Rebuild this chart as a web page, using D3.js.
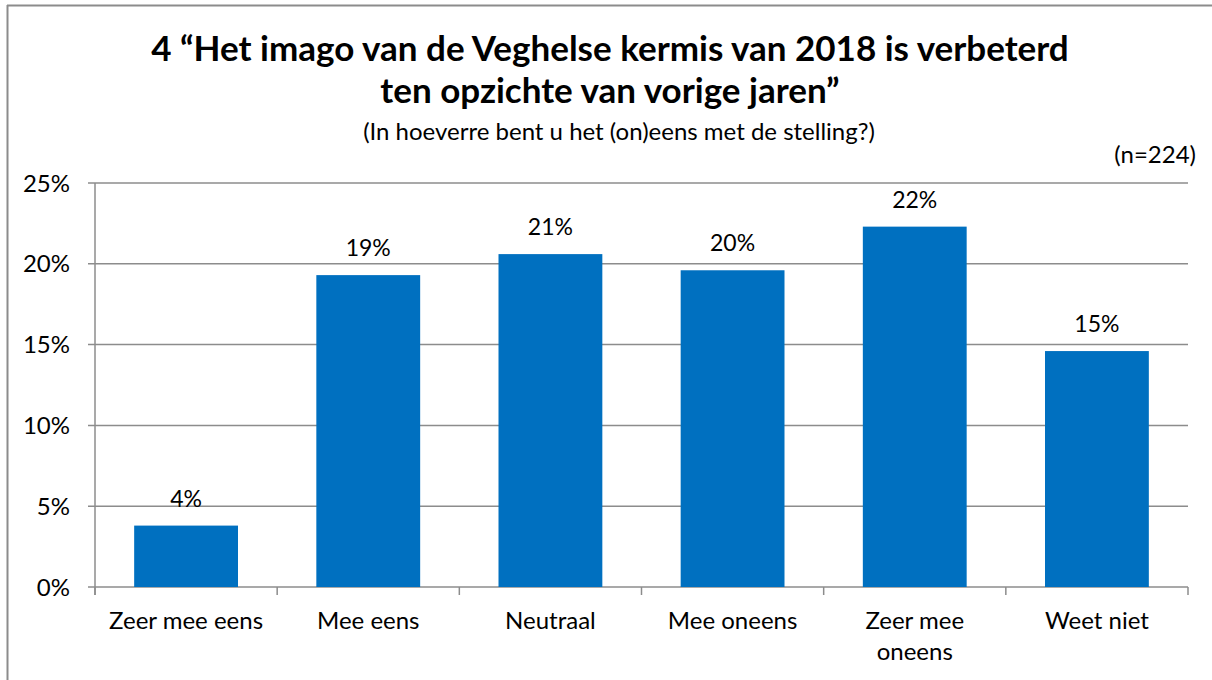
<!DOCTYPE html>
<html>
<head>
<meta charset="utf-8">
<script src="https://cdn.jsdelivr.net/npm/d3@7"></script>
<style>
  body { margin: 0; background: #fff; overflow: hidden; }
  svg { display: block; font-family: Lato, "Open Sans", sans-serif; }
</style>
</head>
<body>
<svg id="chart" width="1212" height="680"></svg>
<script>
// data
var categories = ["Zeer mee eens", "Mee eens", "Neutraal", "Mee oneens", "Zeer mee oneens", "Weet niet"];
var values = [3.8, 19.3, 20.6, 19.6, 22.3, 14.6];
var valueLabels = ["4%", "19%", "21%", "20%", "22%", "15%"];
var yTicks = [0, 5, 10, 15, 20, 25];

var svg = d3.select("#chart");

// outer frame: only top and left edges are inside the picture
svg.append("line")
    .attr("x1", 7).attr("x2", 1212)
    .attr("y1", 5.5).attr("y2", 5.5)
    .style("stroke", "#8c8c8c").style("stroke-width", 2);
svg.append("line")
    .attr("x1", 7.5).attr("x2", 7.5)
    .attr("y1", 5).attr("y2", 680)
    .style("stroke", "#8c8c8c").style("stroke-width", 2);

var margin = {top: 183, left: 95, right: 24, bottom: 93};
var width = 1212 - margin.left - margin.right;
var height = 680 - margin.top - margin.bottom;

var g = svg.append("g").attr("transform", `translate(${margin.left},${margin.top})`);

var xScale = d3.scaleBand()
    .domain(categories)
    .range([0, width])
    .paddingInner(0.43)
    .paddingOuter(0.215);

var yScale = d3.scaleLinear()
    .domain([0, 25])
    .range([height, 0]);

// gridlines
g.selectAll(".grid")
    .data(yTicks)
    .enter()
    .append("line")
    .attr("x1", -7)
    .attr("x2", width)
    .attr("y1", function(d) { return yScale(d); })
    .attr("y2", function(d) { return yScale(d); })
    .style("stroke", "#8c8c8c")
    .style("stroke-width", 1.5);

// y axis labels
g.selectAll(".ylab")
    .data(yTicks)
    .enter()
    .append("text")
    .attr("x", -25)
    .attr("y", function(d) { return yScale(d); })
    .attr("dy", "0.36em")
    .attr("text-anchor", "end")
    .style("font-size", "24px")
    .text(function(d) { return d + "%"; });

// y axis line
g.append("line")
    .attr("x1", 0).attr("x2", 0)
    .attr("y1", 0).attr("y2", height + 8)
    .style("stroke", "#8c8c8c")
    .style("stroke-width", 1.5);

// x tick marks at band boundaries
var bounds = d3.range(categories.length + 1).map(function(i) { return i * width / categories.length; });
g.selectAll(".xtick")
    .data(bounds)
    .enter()
    .append("line")
    .attr("x1", function(d) { return d; })
    .attr("x2", function(d) { return d; })
    .attr("y1", height)
    .attr("y2", height + 8)
    .style("stroke", "#8c8c8c")
    .style("stroke-width", 1.5);

// bars
g.selectAll(".bar")
    .data(values)
    .enter()
    .append("rect")
    .attr("x", function(d, i) { return xScale(categories[i]); })
    .attr("y", function(d) { return yScale(d); })
    .attr("width", xScale.bandwidth())
    .attr("height", function(d) { return height - yScale(d); })
    .style("fill", "#0070c0");

// value labels
g.selectAll(".val")
    .data(values)
    .enter()
    .append("text")
    .attr("x", function(d, i) { return xScale(categories[i]) + xScale.bandwidth() / 2; })
    .attr("y", function(d) { return yScale(d) - 19; })
    .attr("text-anchor", "middle")
    .style("font-size", "23px")
    .text(function(d, i) { return valueLabels[i]; });

// category labels (long one wraps)
var xlab = g.selectAll(".xlab")
    .data(categories)
    .enter()
    .append("text")
    .attr("text-anchor", "middle")
    .style("font-size", "24px")
    .attr("transform", function(d) {
        return `translate(${xScale(d) + xScale.bandwidth() / 2},${height + 42})`;
    });
xlab.each(function(d) {
    var lines = d === "Zeer mee oneens" ? ["Zeer mee", "oneens"] : [d];
    var t = d3.select(this);
    lines.forEach(function(l, i) {
        t.append("tspan").attr("x", 0).attr("dy", i === 0 ? 0 : 31).text(l);
    });
});

// titles
svg.append("text")
    .attr("x", 610).attr("y", 61)
    .attr("text-anchor", "middle")
    .style("font-size", "35px")
    .style("font-weight", "bold")
    .text("4 \u201cHet imago van de Veghelse kermis van 2018 is verbeterd");
svg.append("text")
    .attr("x", 610).attr("y", 103)
    .attr("text-anchor", "middle")
    .style("font-size", "35px")
    .style("font-weight", "bold")
    .text("ten opzichte van vorige jaren\u201d");
svg.append("text")
    .attr("x", 619).attr("y", 140)
    .attr("text-anchor", "middle")
    .style("font-size", "24px")
    .text("(In hoeverre bent u het (on)eens met de stelling?)");
svg.append("text")
    .attr("x", 1196).attr("y", 163)
    .attr("text-anchor", "end")
    .style("font-size", "24px")
    .text("(n=224)");
</script>
</body>
</html>
